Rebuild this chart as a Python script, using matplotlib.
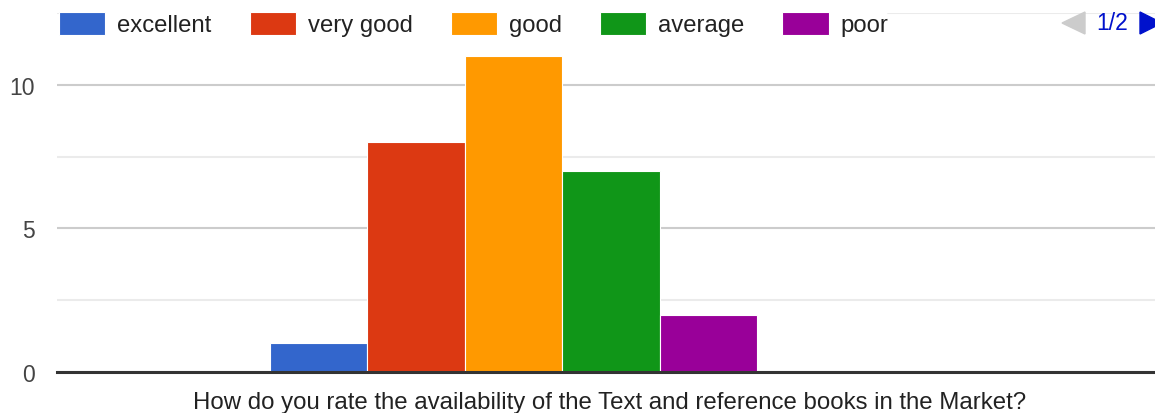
import matplotlib.pyplot as plt
from matplotlib.patches import Polygon
from matplotlib.ticker import MultipleLocator

plt.rcParams['font.family'] = ['Liberation Sans', 'DejaVu Sans']

# ratings shown on page 1 of the legend
labels = ["excellent", "very good", "good", "average", "poor"]
counts = [1, 8, 11, 7, 2]
colors = ["#3366cc", "#dc3912", "#ff9900", "#109618", "#990099"]
n_slots = 7  # the chart reserves room for 7 series (legend page 2 is empty)
question = "How do you rate the availability of the Text and reference books in the Market?"

W, H = 1155, 414
fig = plt.figure(figsize=(W / 100, H / 100), dpi=100)
ax = fig.add_axes([57 / W, 41 / H, 1 - 57 / W, (373 - 14) / H])

offsets = [i - (n_slots - 1) / 2 for i in range(n_slots)]
for off, val, col, lab in zip(offsets, counts, colors, labels):
    ax.bar(off, val, width=1.0, color=col, edgecolor="white", linewidth=0.8,
           label=lab, zorder=3)

ax.set_xlim(-5.68, 5.58)
ax.set_ylim(0, 12.5)
ax.yaxis.set_major_locator(MultipleLocator(5))
ax.yaxis.set_minor_locator(MultipleLocator(2.5))
ax.grid(axis="y", which="major", color="#cccccc", linewidth=1.5, zorder=0)
ax.grid(axis="y", which="minor", color="#ebebeb", linewidth=1.5, zorder=0)
ax.set_xticks([])
ax.tick_params(axis="y", which="both", length=0, labelsize=16.5,
               labelcolor="#444444", pad=16)
for s in ["top", "right", "left"]:
    ax.spines[s].set_visible(False)
ax.spines["bottom"].set_color("#333333")
ax.spines["bottom"].set_linewidth(2.2)
ax.spines["bottom"].set_zorder(4)

fig.text(610 / W, 1 - 403 / H, question, ha="center", va="center",
         fontsize=17.3, color="#222222")

leg = ax.legend(ncol=5, loc="center left", bbox_to_anchor=(59 / W, 1 - 25 / H),
                bbox_transform=fig.transFigure, frameon=True, fontsize=17.2,
                handlelength=1.93, handleheight=1.15, handletextpad=0.5,
                columnspacing=1.6, borderpad=0.0, borderaxespad=0)
leg.get_frame().set_facecolor("white")
leg.get_frame().set_edgecolor("none")
leg.get_frame().set_alpha(1)
for t in leg.get_texts():
    t.set_color("#222222")

# legend pager
fig.add_artist(Polygon([[1062 / W, 1 - 24 / H], [1085 / W, 1 - 13 / H], [1085 / W, 1 - 35 / H]],
                       closed=True, transform=fig.transFigure, color="#cccccc"))
fig.text(1112 / W, 1 - 24 / H, "1/2", ha="center", va="center", fontsize=16.5, color="#0011cc")
fig.add_artist(Polygon([[1140 / W, 1 - 13 / H], [1140 / W, 1 - 35 / H], [1162 / W, 1 - 24 / H]],
                       closed=True, transform=fig.transFigure, color="#0011cc"))

fig.savefig("out.png", dpi=100)
